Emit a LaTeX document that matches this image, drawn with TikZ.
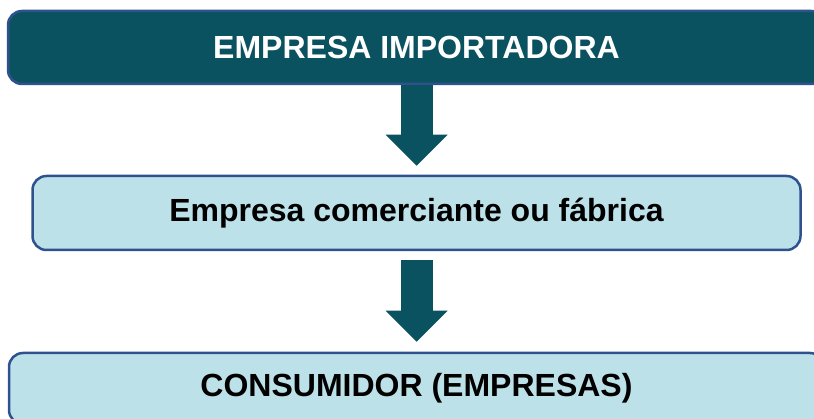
\documentclass[tikz,border=0pt]{standalone}
\usepackage{fontspec}
\setmainfont{Liberation Sans}
\usetikzlibrary{arrows.meta}
\definecolor{tealdark}{RGB}{10,82,96}
\definecolor{boxline}{RGB}{47,82,143}
\definecolor{boxlight}{RGB}{189,225,232}
\tikzset{
  stagebox/.style={draw=boxline, line width=2.5pt, rounded corners=14pt, fill=boxlight,
    inner sep=0pt, font=\fontsize{32}{38}\selectfont\bfseries},
  flowarrow/.style={draw=tealdark, line width=32pt,
    -{Triangle[width=62pt,length=31pt,line width=0pt 0]}}
}
\begin{document}
\begin{tikzpicture}[x=1pt,y=-1pt]
\useasboundingbox (0,0) rectangle (814,419);
\node[stagebox, fill=tealdark, text=white, minimum width=817pt, minimum height=73pt] (importer) at (416.5,47.5) {EMPRESA IMPORTADORA};
\node[stagebox, minimum width=768pt, minimum height=74pt] (trader) at (416.5,213) {Empresa comerciante ou fábrica};
\node[stagebox, minimum width=815pt, minimum height=71pt] (consumer) at (416.5,388.5) {CONSUMIDOR (EMPRESAS)};
% arrows between the stages
\draw[flowarrow, shorten >=9pt] (importer.south) -- (trader.north);
\draw[flowarrow, shorten <=9pt, shorten >=10pt] (trader.south) -- (consumer.north);
\end{tikzpicture}
\end{document}
